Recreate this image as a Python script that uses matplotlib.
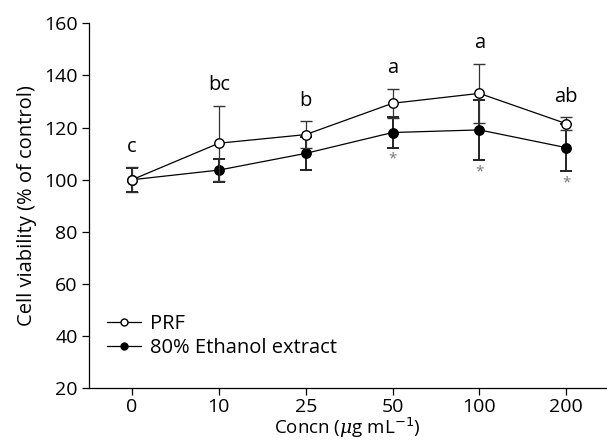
import numpy as np
import matplotlib
matplotlib.use('Agg')
from matplotlib import pyplot as plt
from matplotlib.lines import Line2D

# data
conc_labels = ['0', '10', '25', '50', '100', '200']
prf_mean = [100.0, 114.0, 117.3, 129.3, 133.1, 121.5]
prf_err = [4.7, 14.4, 5.2, 5.6, 11.3, 2.5]
eth_mean = [100.0, 103.7, 110.1, 118.1, 119.1, 112.3]
eth_err = [4.6, 4.4, 6.4, 5.8, 11.6, 9.0]
letters = ['c', 'bc', 'b', 'a', 'a', 'ab']
stars = ['', '', '', '*', '*', '*']

plt.rcParams['font.family'] = ['Open Sans', 'DejaVu Sans']
plt.rcParams['font.size'] = 14
plt.rcParams['mathtext.fontset'] = 'custom'
plt.rcParams['mathtext.it'] = 'DejaVu Serif:italic'

x = np.arange(len(conc_labels))

fig = plt.figure(figsize=(6.07, 4.46), dpi=100)
ax = fig.add_axes([0.146, 0.129, 0.854, 0.819])

ax.errorbar(x, eth_mean, yerr=eth_err, color='black', ecolor='#222222',
            elinewidth=1.4, capsize=4, capthick=1.4, marker='o', ms=6.8,
            mfc='black', mec='black', lw=0.9, zorder=2)
ax.errorbar(x, prf_mean, yerr=prf_err, color='black', ecolor='#333333',
            elinewidth=0.9, capsize=4, capthick=1.0, marker='o', ms=6.8,
            mfc='white', mec='black', mew=1.0, lw=0.9, zorder=3)

# significance letters above PRF bars
for i, txt in enumerate(letters):
    ax.annotate(txt, (x[i], prf_mean[i] + prf_err[i]), xytext=(0, 7.5),
                textcoords='offset points', ha='center', va='bottom', fontsize=14.5)

# asterisks below ethanol bars
for i, txt in enumerate(stars):
    if txt:
        ax.annotate(txt, (x[i], eth_mean[i] - eth_err[i]), xytext=(0, -3),
                    textcoords='offset points', ha='center', va='top',
                    fontsize=11, color='#777777')

ax.set_xlim(-0.5, 5.47)
ax.set_ylim(20, 160)
ax.set_xticks(x)
ax.set_xticklabels(conc_labels)
ax.set_yticks(np.arange(20, 161, 20))
ax.spines['top'].set_visible(False)
ax.spines['right'].set_visible(False)
ax.tick_params(direction='out', length=5, width=0.9, pad=3)
ax.tick_params(axis='x', pad=2)
ax.spines['left'].set_linewidth(0.9)
ax.spines['bottom'].set_linewidth(0.9)

ax.set_xlabel(r'Concn ($\mu$g mL$^{-1}$)', labelpad=-0.5, fontsize=13.5)
ax.set_ylabel('Cell viability (% of control)', labelpad=5, fontsize=14.5)

handles = [
    Line2D([], [], color='black', lw=0.9, marker='o', ms=5, mfc='white', mec='black'),
    Line2D([], [], color='black', lw=0.9, marker='o', ms=5, mfc='black', mec='black'),
]
ax.legend(handles, ['PRF', '80% Ethanol extract'], loc='lower left', frameon=False,
          bbox_to_anchor=(0.02, 0.06), handlelength=1.7, handletextpad=0.45,
          labelspacing=0.2, borderaxespad=0, fontsize=14.5)

plt.savefig('out.png', dpi=100)
